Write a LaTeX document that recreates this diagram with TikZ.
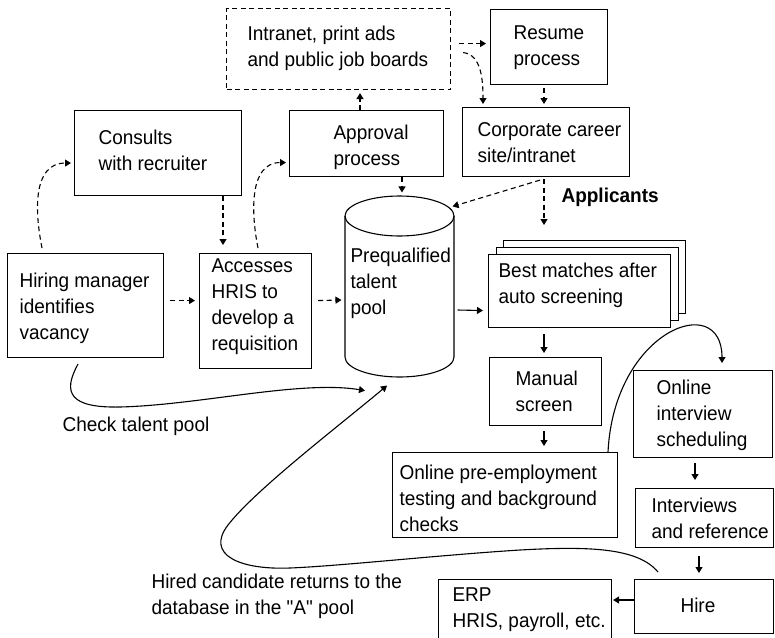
\documentclass[tikz,border=0pt]{standalone}
\usepackage{fontspec}
\setmainfont{Liberation Sans}[FakeStretch=0.95, Ligatures=TeXOff]
\usetikzlibrary{arrows.meta,calc}
\newcommand\mkbox[6]{\node[#2, minimum width=#5-#3, minimum height=#6-#4, anchor=north west] (#1) at (#3,#4) {};}
\begin{document}
\begin{tikzpicture}[x=1pt,y=-1pt,
  line width=1.1pt,
  box/.style={draw, line width=1.1pt, inner sep=0, fill=white},
  dbox/.style={box, dash pattern=on 5pt off 3.5pt},
  txt/.style={inner sep=0, align=left, anchor=west, font=\fontsize{20}{26}\selectfont},
  arr/.style={-{Triangle[length=6pt,width=7pt]}, line width=1.1pt},
  darr/.style={arr, dash pattern=on 5pt off 3.5pt},
]
\fill[white] (0,0) rectangle (775,637);
\useasboundingbox (0,0) rectangle (775,637);

% boxes
\mkbox{intra}{dbox}{226}{8}{450}{89}
\mkbox{res}{box}{490}{9}{607}{84}
\mkbox{cons}{box}{74}{110}{241}{195}
\mkbox{appr}{box}{289}{110}{443}{176}
\mkbox{corp}{box}{462}{107}{629}{176}
\mkbox{hm}{box}{7}{253}{163}{357}
\mkbox{acc}{box}{199}{253}{311}{368}
\mkbox{best3}{box}{503}{240}{685}{313}
\mkbox{best2}{box}{496}{247}{678}{320}
\mkbox{best}{box}{488}{254}{670}{327}
\mkbox{man}{box}{489}{357}{601}{425}
\mkbox{pre}{box}{392}{452}{617}{537}
\mkbox{sched}{box}{633}{370}{772}{457}
\mkbox{intv}{box}{635}{488}{773}{547}
\mkbox{hire}{box}{634}{579}{773}{633}
\mkbox{erp}{box}{438}{579}{611}{645}

% cylinder
\node[inner sep=0, minimum width=109pt, minimum height=181pt] (pool) at (399.5,286.5) {};
\draw (345,216) -- (345,357) arc[start angle=180, end angle=0, x radius=54.5, y radius=20] -- (454,216);
\draw (399.5,216) ellipse[x radius=54.5, y radius=20];

% texts
\node[txt] (t-intra) at (247,48.5) {Intranet, print ads\\and public job boards};
\node[txt] (t-res) at (513,48) {Resume\\process};
\node[txt] (t-cons) at (98,150) {Consults\\with recruiter};
\node[txt] (t-appr) at (333,147) {Approval\\process};
\node[txt] (t-corp) at (477,142.5) {Corporate career\\site/intranet};
\node[txt] (t-hm) at (19,308) {Hiring manager\\identifies\\vacancy};
\node[txt] (t-acc) at (211,307) {Accesses\\HRIS to\\develop a\\requisition};
\node[txt] (t-pool) at (350,283) {Prequalified\\talent\\pool};
\node[txt] (t-best) at (498,285) {Best matches after\\auto screening};
\node[txt] (t-man) at (515,391.5) {Manual\\screen};
\node[txt] (t-pre) at (399,498) {Online pre-employment\\testing and background\\checks};
\node[txt] (t-sched) at (656,415) {Online\\interview\\scheduling};
\node[txt] (t-intv) at (651,518) {Interviews\\and reference};
\node[txt] (t-hire) at (680,605) {Hire};
\node[txt] (t-erp) at (452,610) {ERP\\HRIS, payroll, etc.};
\node[txt, font=\fontsize{20}{26}\selectfont\bfseries] (applicants) at (561,197) {Applicants};
\node[txt] (check) at (62,426) {Check talent pool};
\node[txt] (hired) at (151,596) {Hired candidate returns to the\\database in the "A" pool};

% dashed connectors
\draw[darr] ($(hm.north west)+(35,-5)$) .. controls ($(hm.north west)+(28,-40)$) and ($(cons.west)+(-42,10)$) .. ($(cons.west)+(-3,10)$);
\draw[darr] ($(acc.north west)+(59,-5)$) .. controls ($(acc.north west)+(52,-40)$) and ($(appr.west)+(-40,19)$) .. ($(appr.west)+(-3,19)$);
\draw[darr] ($(cons.south west)+(149,0)$) -- ($(acc.north west)+(24,-8)$);
\draw[darr] ($(appr.south west)+(113,0)$) -- ($(pool.north)+(2.5,-3)$);
\draw[darr] ($(appr.north west)+(71,0)$) -- ($(intra.south west)+(134,3)$);
\draw[darr] ($(intra.east)+(8,-5.5)$) -- ($(res.west)+(-4,-3.5)$);
\draw[darr] ($(intra.east)+(12,3.5)$) .. controls +(18,2) and +(0,-25) .. ($(corp.north west)+(21,-3)$);
\draw[darr] ($(res.south west)+(54,3)$) -- ($(corp.north west)+(82,-3)$);
\draw[darr] ($(corp.south west)+(78,3)$) -- ($(pool.north east)+(-2,11)$);
\draw[darr] ($(corp.south west)+(82,2)$) -- ($(best3.north west)+(41,-15)$);
\draw[darr] ($(hm.east)+(6,-5)$) -- ($(acc.west)+(-4,-10.5)$);
\draw[darr] ($(acc.east)+(6,-10.5)$) -- ($(pool.west)+(-3,13.5)$);

% solid connectors
\draw[arr] ($(pool.east)+(3,23.5)$) -- ($(best.west)+(-5,19.5)$);
\draw[arr] ($(best.south west)+(56,6)$) -- ($(man.north west)+(55,-4)$);
\draw[arr] ($(man.south west)+(55,5)$) -- ($(pre.north west)+(152,-6)$);
\draw[arr] ($(pre.north west)+(216,0)$) .. controls ($(pre.north west)+(222,-122)$) and ($(sched.north west)+(89,-80)$) .. ($(sched.north west)+(89,-7)$);
\draw[arr] ($(sched.south west)+(62,5)$) -- ($(intv.north west)+(60,-8)$);
\draw[arr] ($(intv.south west)+(64,8)$) -- ($(hire.north west)+(65,-6)$);
\draw[arr] ($(hire.north west)+(0,21)$) -- ($(erp.north east)+(1,21)$);
\draw[arr] ($(hire.north west)+(24,-7)$) .. controls (638,548) and (590,546) .. (520,550)
  .. controls (440,555) and (340,566) .. (290,568)
  .. controls (240,570) and (205,555) .. (228,525)
  .. controls (255,490) and (340,425) .. ($(pool.south)+(-12.5,8)$);
\draw[arr] ($(hm.south west)+(71,6)$) .. controls +(-16,29) and (70,408) .. (120,407)
  .. controls (200,405) and (300,380) .. ($(pool.south)+(-34.5,13)$);
\end{tikzpicture}
\end{document}
